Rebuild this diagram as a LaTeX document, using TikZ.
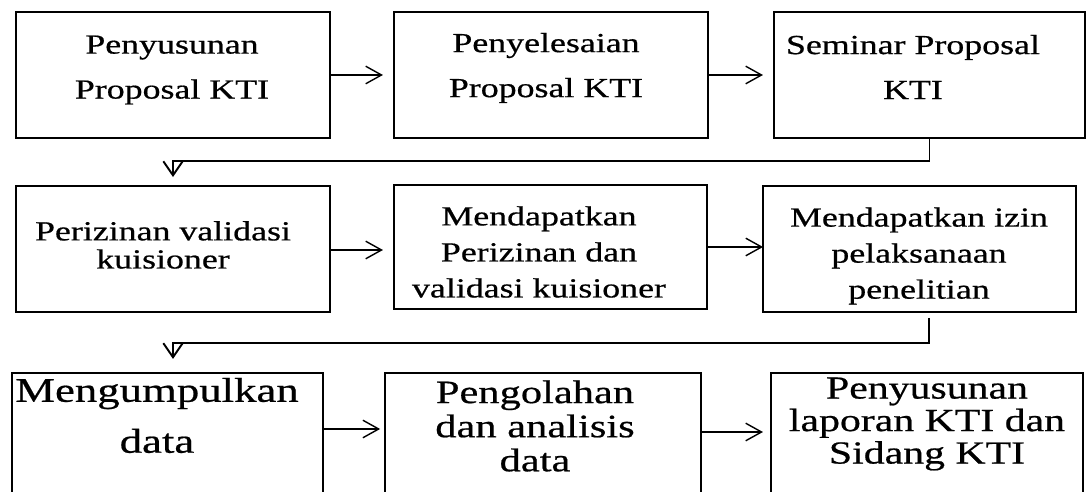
\documentclass[tikz,border=0pt]{standalone}
\usepackage{fontspec}
\usepackage{tikz}
\usetikzlibrary{arrows.meta,positioning,calc}
\newfontfamily\wideserif[FakeStretch=1.3, FakeBold=0.6]{Liberation Serif}

\begin{document}
\begin{tikzpicture}[x=0.02cm, y=0.02cm,
  box/.style={draw, line width=0.8pt, inner sep=0pt, outer sep=0pt, minimum width=6.28cm, minimum height=2.52cm},
  txt/.style={align=center, inner sep=0pt},
  arr/.style={-{Straight Barb[length=9pt, width=10pt]}, line width=0.8pt},
  elbow/.style={-{Straight Barb[length=8pt, width=11pt]}, line width=1.1pt}]

\useasboundingbox (0,0) rectangle (1091,492);
\clip (0,0) rectangle (1091,492);

% Row 1
\node[box] (a) at (173,417) {};
\node[box] (b) at (551,417) {};
\node[box, minimum width=6.22cm] (c) at (929.5,417) {};
\node[txt, font=\wideserif\fontsize{15.7}{25.6}\selectfont] (a-t) at (172,422) {Penyusunan\\Proposal KTI};
\node[txt, font=\wideserif\fontsize{15.7}{25.6}\selectfont] (b-t) at (546,424) {Penyelesaian\\Proposal KTI};
\node[txt, font=\wideserif\fontsize{15.7}{25.6}\selectfont] (c-t) at (913,425) {Seminar Proposal\\KTI};

% Row 2
\node[box] (d) at (173,243) {};
\node[box, minimum width=6.26cm, minimum height=2.48cm] (e) at (550.5,245) {};
\node[box, minimum width=6.26cm] (f) at (919.5,243) {};
\node[txt, font=\wideserif\fontsize{15.7}{16}\selectfont] (d-t) at (163,247) {Perizinan validasi\\kuisioner};
\node[txt, font=\wideserif\fontsize{15.7}{20.5}\selectfont] (e-t) at (539,240) {Mendapatkan\\Perizinan dan\\validasi kuisioner};
\node[txt, font=\wideserif\fontsize{15.7}{20.5}\selectfont] (f-t) at (919,236) {Mendapatkan izin\\pelaksanaan\\penelitian};

% Row 3 (cut at the bottom)
\node[box, minimum width=6.22cm] (g) at (167.5,56) {};
\node[box, minimum width=6.32cm] (h) at (543,56) {};
\node[box, minimum width=6.24cm] (i) at (927,56) {};
\node[txt, font=\wideserif\fontsize{19.6}{29}\selectfont] (g-t) at (157,76.5) {Mengumpulkan\\data};
\node[txt, font=\wideserif\fontsize{18.6}{19.4}\selectfont] (h-t) at (535,66) {Pengolahan\\dan analisis\\data};
\node[txt, font=\wideserif\fontsize{18.3}{18.5}\selectfont] (i-t) at (927,68) {Penyusunan\\laporan KTI dan\\Sidang KTI};

% Arrows in the rows
\draw[arr, shorten >=6.3pt] (a.east) -- (b.west);
\draw[arr, shorten >=6.3pt] (b.east) -- (c.west);
\draw[arr, shorten >=6.3pt] ([yshift=-0.02cm]d.east) -- ([yshift=-0.02cm]d.east -| e.west);
\draw[arr] (e.east) -- (e.east -| f.west);
\draw[arr, shorten >=2.8pt] ([yshift=0.14cm]g.east) -- ([yshift=0.14cm]h.west);
\draw[arr, shorten >=4.6pt] ([yshift=0.08cm]h.east) -- ([yshift=0.08cm]i.west);

% Turn to next row
\coordinate (f-out) at (929,174);
\draw[elbow, shorten >=5.1pt] (c.south) -- ++(0,-23) -| (d.north);
\draw[elbow, shorten >=8pt] (f-out) -- ++(0,-25) -| ([xshift=0.11cm]g.north);

\end{tikzpicture}
\end{document}
